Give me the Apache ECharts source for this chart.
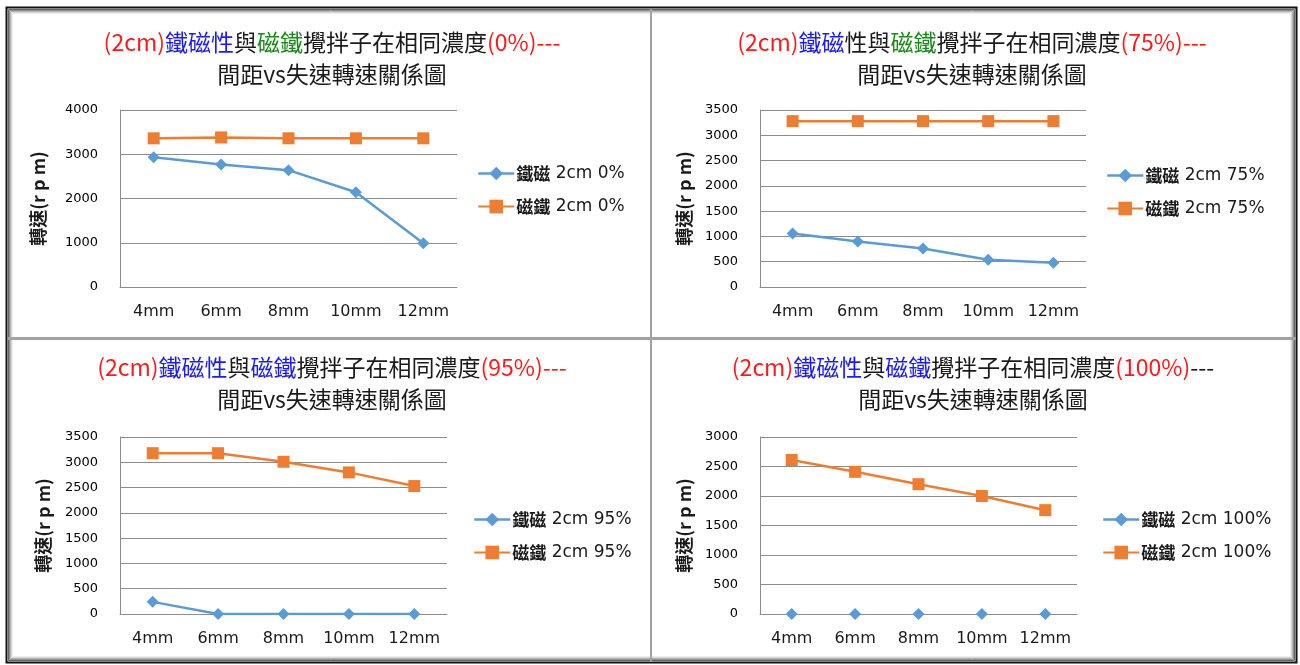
<!DOCTYPE html>
<html>
<head>
<meta charset="utf-8">
<script src="https://cdn.jsdelivr.net/npm/echarts@6/dist/echarts.min.js"></script>
<style>
  html, body { margin: 0; padding: 0; background: #fff; }
  #chart { width: 1300px; height: 665px; }
</style>
</head>
<body>
<div id="chart"></div>
<script>
// Gap between stirrer and magnet vs stall speed (rpm), four concentrations
const categories = ['4mm', '6mm', '8mm', '10mm', '12mm'];

const fe0   = [2930, 2770, 2640, 2140, 990];
const mag0  = [3360, 3380, 3360, 3360, 3360];
const fe75  = [1060, 900, 760, 540, 480];
const mag75 = [3280, 3280, 3280, 3280, 3280];
const fe95  = [240, 0, 0, 0, 0];
const mag95 = [3180, 3180, 3010, 2800, 2530];
const fe100  = [0, 0, 0, 0, 0];
const mag100 = [2610, 2410, 2200, 2000, 1760];

const yMax  = [4000, 3500, 3500, 3000];
const yStep = [1000, 500, 500, 500];

const feNames  = ['鐵磁 2cm 0%', '鐵磁 2cm 75%', '鐵磁 2cm 95%', '鐵磁 2cm 100%'];
const magNames = ['磁鐵 2cm 0%', '磁鐵 2cm 75%', '磁鐵 2cm 95%', '磁鐵 2cm 100%'];
const feData  = [fe0, fe75, fe95, fe100];
const magData = [mag0, mag75, mag95, mag100];

// Coloured title fragments: [text, style key]
const titleLines = [
  [['(2cm)', 'r'], ['鐵磁性', 'b'], ['與', 'k'], ['磁鐵', 'g'], ['攪拌子在相同濃度', 'k'], ['(0%)---', 'r']],
  [['(2cm)', 'r'], ['鐵磁', 'b'], ['性與', 'k'], ['磁鐵', 'g'], ['攪拌子在相同濃度', 'k'], ['(75%)---', 'r']],
  [['(2cm)', 'r'], ['鐵磁性', 'b'], ['與', 'k'], ['磁鐵', 'b'], ['攪拌子在相同濃度', 'k'], ['(95%)---', 'r']],
  [['(2cm)', 'r'], ['鐵磁性', 'b'], ['與', 'k'], ['磁鐵', 'b'], ['攪拌子在相同濃度', 'k'], ['(100%)', 'r'], ['---', 'k']]
];
const subTitle = '間距vs失速轉速關係圖';
const yName = '轉速(r p m)';

// Panel geometry
const grids = [
  { left: 120, top: 110, width: 337, height: 177 },
  { left: 760, top: 110, width: 326, height: 177 },
  { left: 120, top: 437, width: 327, height: 177 },
  { left: 760, top: 437, width: 317, height: 177 }
];
const titlePos = [
  { x: 332, y: 26 }, { x: 972, y: 26 }, { x: 332, y: 351 }, { x: 973, y: 351 }
];
const legendPos = [
  { left: 477, top: 165 }, { left: 1106, top: 167 }, { left: 473, top: 511 }, { left: 1102, top: 511 }
];
const nameGaps = [73, 67, 68, 67];

const BLUE = '#5b9bd5';
const ORANGE = '#ed7d31';
const GRID = '#8c8c8c';
const TEXT = '#1a1a1a';
const CJK = '"Noto Sans CJK TC", "Noto Sans CJK SC", sans-serif';
const LATIN = '"DejaVu Sans", "Noto Sans CJK TC", sans-serif';

function richStyle(color) {
  return { color: color, fontSize: 23, fontFamily: CJK, fontWeight: 'normal', lineHeight: 32 };
}
const titleRich = {
  r: richStyle('#ff1a1a'),
  b: richStyle('#1a1aff'),
  g: richStyle('#1a8a1a'),
  k: richStyle(TEXT)
};

const title = titleLines.map((parts, i) => ({
  text: parts.map(p => '{' + p[1] + '|' + p[0] + '}').join('') + '\n{k|' + subTitle + '}',
  left: titlePos[i].x,
  top: titlePos[i].y,
  textAlign: 'center',
  padding: 0,
  textStyle: { fontWeight: 'normal', rich: titleRich }
}));

const grid = grids.map(g => Object.assign({ containLabel: false }, g));

const xAxis = grids.map((g, i) => ({
  type: 'category',
  gridIndex: i,
  data: categories,
  boundaryGap: true,
  axisLine: { lineStyle: { color: GRID, width: 1 } },
  axisTick: { show: false },
  axisLabel: { color: TEXT, fontSize: 16, fontFamily: LATIN, margin: 17, interval: 0 }
}));

const yAxis = grids.map((g, i) => ({
  type: 'value',
  gridIndex: i,
  min: 0,
  max: yMax[i],
  interval: yStep[i],
  name: yName,
  nameLocation: 'middle',
  nameRotate: 90,
  nameGap: nameGaps[i],
  nameTextStyle: { color: TEXT, fontSize: 18, fontFamily: CJK, fontWeight: 'bold' },
  axisLine: { show: true, lineStyle: { color: GRID, width: 1 } },
  axisTick: { show: false },
  splitLine: { lineStyle: { color: GRID, width: 1 } },
  axisLabel: {
    color: '#000', fontSize: 13, fontFamily: LATIN, margin: 22,
    formatter: v => String(v)
  }
}));

const series = [];
for (let i = 0; i < 4; i++) {
  const hideFeLine = i === 3;
  series.push({
    name: feNames[i],
    type: 'line',
    xAxisIndex: i,
    yAxisIndex: i,
    data: feData[i],
    symbol: 'diamond',
    symbolSize: 12,
    showAllSymbol: true,
    itemStyle: { color: BLUE },
    lineStyle: { color: BLUE, width: 2.5, opacity: hideFeLine ? 0 : 1 },
    animation: false
  });
  series.push({
    name: magNames[i],
    type: 'line',
    xAxisIndex: i,
    yAxisIndex: i,
    data: magData[i],
    symbol: 'rect',
    symbolSize: 12,
    showAllSymbol: true,
    itemStyle: { color: ORANGE },
    lineStyle: { color: ORANGE, width: 2.5 },
    animation: false
  });
}

// Legend labels: bold CJK prefix, plain size/concentration suffix
function legendLabel(name) {
  const cut = name.indexOf(' ');
  return '{c|' + name.slice(0, cut) + '}{l|' + name.slice(cut) + '}';
}

const legend = legendPos.map((p, i) => ({
  orient: 'vertical',
  left: p.left,
  top: p.top,
  padding: 0,
  itemGap: 16,
  itemWidth: 36,
  itemHeight: 17,
  formatter: legendLabel,
  textStyle: {
    color: TEXT,
    padding: [0, 0, 0, -3],
    rich: {
      c: { color: TEXT, fontSize: 17, fontFamily: CJK, fontWeight: 'bold' },
      l: { color: TEXT, fontSize: 17, fontFamily: LATIN }
    }
  },
  data: [
    { name: feNames[i], lineStyle: { opacity: 1, color: BLUE, width: 2.5 } },
    { name: magNames[i] }
  ],
  selectedMode: false
}));

// Worksheet frame and panel dividers
const frameRings = [
  { inset: 0, color: '#111111', width: 2 },
  { inset: 2, color: '#666666', width: 1 },
  { inset: 3, color: '#8f8f8f', width: 1 },
  { inset: 4, color: '#b5b5b5', width: 1 },
  { inset: 5, color: '#d6d6d6', width: 1 },
  { inset: 6, color: '#eeeeee', width: 1 }
];
const graphic = frameRings.map(f => ({
  type: 'rect',
  silent: true,
  z: -1,
  shape: { x: 6.5 + f.inset, y: 7.5 + f.inset, width: 1290 - 2 * f.inset, height: 655 - 2 * f.inset },
  style: { fill: null, stroke: f.color, lineWidth: f.width }
})).concat([
  { type: 'line', silent: true, z: -1, shape: { x1: 651, y1: 9, x2: 651, y2: 662 }, style: { stroke: '#a2a2a2', lineWidth: 2 } },
  { type: 'line', silent: true, z: -1, shape: { x1: 8, y1: 338.5, x2: 1296, y2: 338.5 }, style: { stroke: '#a2a2a2', lineWidth: 3 } }
]);

const chart = echarts.init(document.getElementById('chart'), null, { renderer: 'canvas' });
chart.setOption({
  backgroundColor: '#ffffff',
  animation: false,
  title,
  legend,
  grid,
  xAxis,
  yAxis,
  series,
  graphic
});
</script>
</body>
</html>
